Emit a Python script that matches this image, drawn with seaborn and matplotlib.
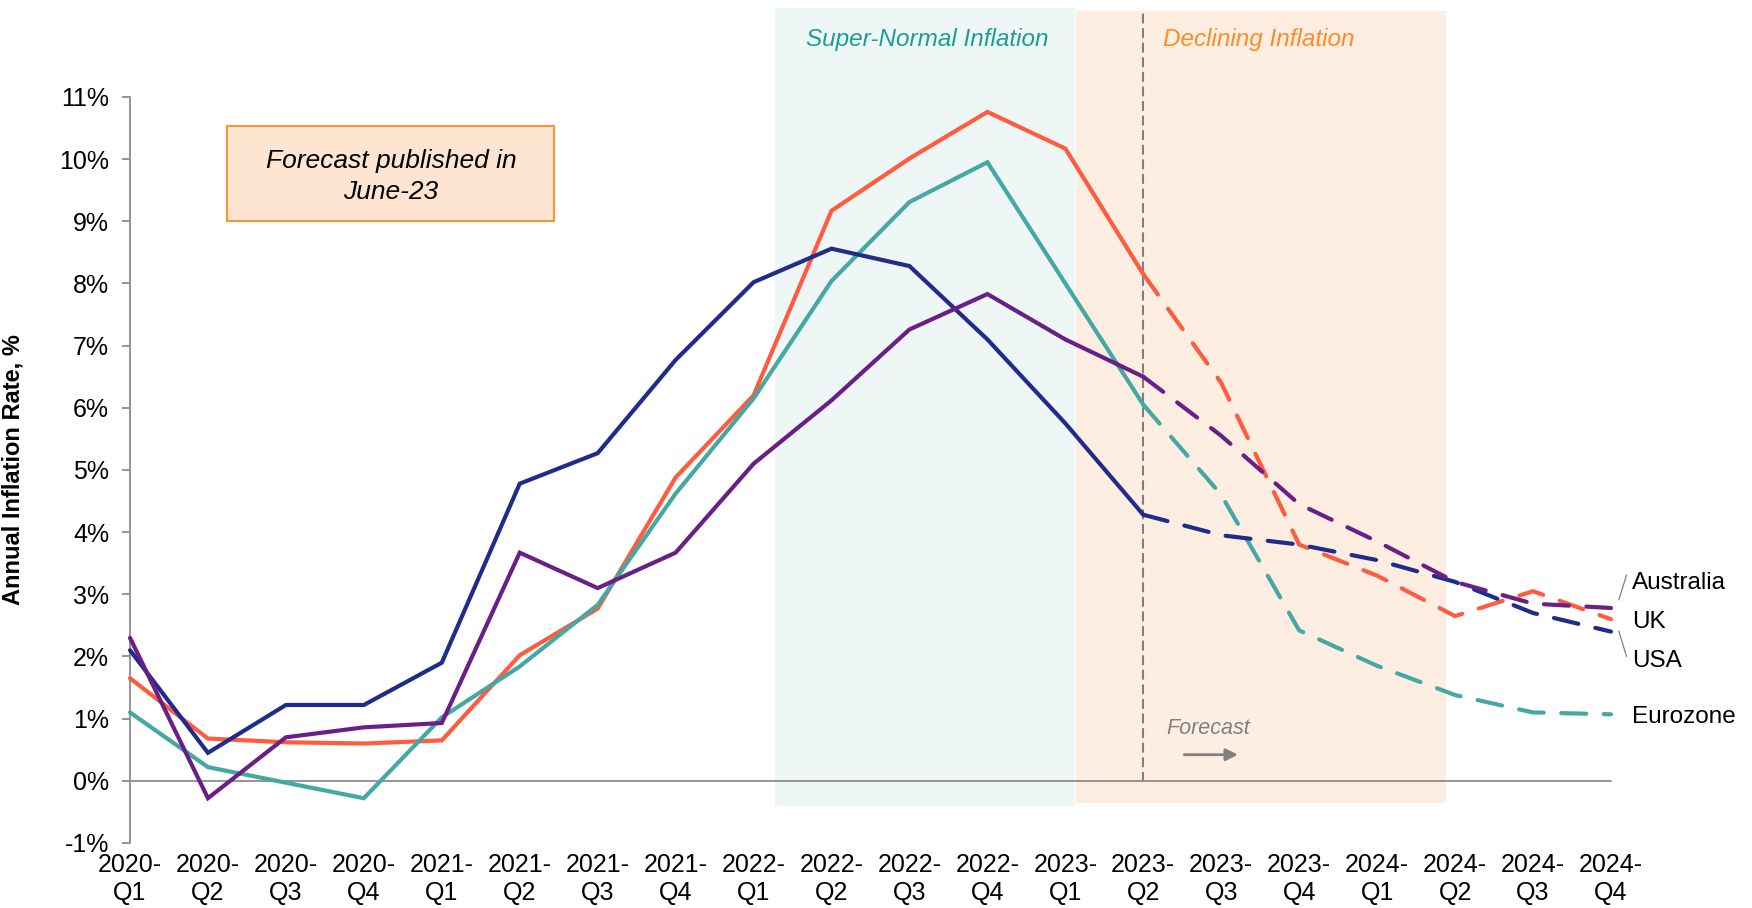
import numpy as np
import pandas as pd
import matplotlib.pyplot as plt
import seaborn as sns
from matplotlib.patches import Rectangle

# ----------------------------
# Data
# ----------------------------

quarters = [
    "2020-\nQ1", "2020-\nQ2", "2020-\nQ3", "2020-\nQ4",
    "2021-\nQ1", "2021-\nQ2", "2021-\nQ3", "2021-\nQ4",
    "2022-\nQ1", "2022-\nQ2", "2022-\nQ3", "2022-\nQ4",
    "2023-\nQ1", "2023-\nQ2", "2023-\nQ3", "2023-\nQ4",
    "2024-\nQ1", "2024-\nQ2", "2024-\nQ3", "2024-\nQ4",
]

uk = [1.65, 0.68, 0.62, 0.60, 0.65, 2.02, 2.77, 4.88, 6.20, 9.17,
      10.01, 10.76, 10.17, 8.15, 6.40, 3.80, 3.30, 2.65, 3.05, 2.60]
eurozone = [1.10, 0.22, -0.03, -0.28, 1.02, 1.84, 2.83, 4.62, 6.15, 8.04,
            9.31, 9.95, 8.00, 6.05, 4.60, 2.42, 1.85, 1.38, 1.10, 1.07]
usa = [2.10, 0.45, 1.22, 1.22, 1.90, 4.78, 5.27, 6.77, 8.02, 8.56,
       8.28, 7.10, 5.75, 4.28, 3.95, 3.80, 3.55, 3.20, 2.70, 2.40]
australia = [2.30, -0.28, 0.70, 0.86, 0.93, 3.67, 3.10, 3.67, 5.10, 6.12,
             7.26, 7.83, 7.10, 6.50, 5.55, 4.45, 3.85, 3.20, 2.85, 2.78]

countries = ["UK", "Eurozone", "USA", "Australia"]
series = {"UK": uk, "Eurozone": eurozone, "USA": usa, "Australia": australia}
forecast_start = 13  # 2023-Q2

colors = {
    "UK": "#FF5B3E",
    "Eurozone": "#45A8A4",
    "USA": "#1F2C8A",
    "Australia": "#6A1F86",
}

# long table: actual part up to forecast_start, forecast part from it
rows = []
for name in countries:
    for i, v in enumerate(series[name]):
        if i <= forecast_start:
            rows.append({"x": i, "value": v, "country": name, "part": "Actual"})
        if i >= forecast_start:
            rows.append({"x": i, "value": v, "country": name, "part": "Forecast"})
df = pd.DataFrame(rows)

# ----------------------------
# Plot
# ----------------------------

sns.set_style("white")
plt.rcParams["font.family"] = ["Liberation Sans", "DejaVu Sans"]
plt.rcParams["text.color"] = "black"
plt.rcParams["xtick.color"] = "black"
plt.rcParams["ytick.color"] = "black"
plt.rcParams["axes.labelcolor"] = "black"

fig = plt.figure(figsize=(17.52, 9.08), dpi=100)
ax = fig.add_axes([0.0742, 0.0716, 0.8453, 0.8216])

# phase shading
ax.add_patch(Rectangle((8.28, -0.40), 12.13 - 8.28, 12.83, facecolor="#EEF7F6",
                       edgecolor="none", clip_on=False, zorder=0))
ax.add_patch(Rectangle((12.14, -0.36), 16.88 - 12.14, 12.75, facecolor="#FEEEE2",
                       edgecolor="none", clip_on=False, zorder=0))

ax.text(10.23, 11.92, "Super-Normal Inflation", color="#1A9E96", fontsize=17.5,
        style="italic", ha="center", va="center")
ax.text(14.48, 11.92, "Declining Inflation", color="#FF8A2A", fontsize=17.5,
        style="italic", ha="center", va="center")

# forecast divider
ax.plot([forecast_start, forecast_start], [0, 12.38], color="#7F7F7F", lw=1.5,
        ls=(0, (4, 3)), clip_on=False, zorder=1)
ax.axhline(0, color="#8C8C8C", lw=1.3, zorder=1)

sns.lineplot(
    data=df, x="x", y="value", hue="country", style="part",
    palette=colors, dashes={"Actual": "", "Forecast": (6, 4.2)},
    estimator=None, sort=True, linewidth=3, legend=False, ax=ax, zorder=3
)
for line in ax.lines:
    line.set_clip_on(False)
    line.set_dash_capstyle("round")
    line.set_solid_joinstyle("miter")

ax.text(13.83, 0.84, "Forecast", color="#808080", fontsize=15.5, style="italic",
        ha="center", va="center")
ax.annotate("", xy=(14.25, 0.42), xytext=(13.49, 0.42),
            arrowprops=dict(arrowstyle="-|>", color="#808080", lw=2,
                            mutation_scale=18))

# box
ax.add_patch(Rectangle((1.25, 9.01), 5.44 - 1.25, 10.54 - 9.01, facecolor="#FDE5D2",
                       edgecolor="#F7963A", lw=1.5, zorder=3))
ax.text(3.35, 9.72, "Forecast published in\nJune-23", fontsize=19, style="italic",
        ha="center", va="center", linespacing=1.35, zorder=4)

# right-hand labels
ax.text(19.27, 3.18, "Australia", fontsize=17.5, va="center")
ax.text(19.27, 2.55, "UK", fontsize=17.5, va="center")
ax.text(19.27, 1.92, "USA", fontsize=17.5, va="center")
ax.text(19.27, 1.03, "Eurozone", fontsize=17.5, va="center")
ax.plot([19.1, 19.2], [2.91, 3.31], color="#7F7F7F", lw=0.9, clip_on=False)
ax.plot([19.1, 19.2], [2.41, 2.0], color="#7F7F7F", lw=0.9, clip_on=False)

# axes
ax.set_xlim(0, 19)
ax.set_ylim(-1, 11)
ax.set_xticks(range(len(quarters)))
ax.set_xticklabels(quarters, fontsize=18, linespacing=1.25)
ax.set_yticks(range(-1, 12))
ax.set_yticklabels([f"{v}%" for v in range(-1, 12)], fontsize=18)
ax.tick_params(axis="x", length=0, pad=7)
ax.tick_params(axis="y", length=6, width=1.3, color="#8C8C8C", labelcolor="black",
               direction="out", pad=9, left=True)
ax.set_xlabel("")
ax.set_ylabel("Annual Inflation Rate, %", fontsize=17, fontweight="bold")
ax.yaxis.set_label_coords(-0.0712, 0.5)

for side in ["top", "right", "bottom"]:
    ax.spines[side].set_visible(False)
ax.spines["left"].set_color("#8C8C8C")
ax.spines["left"].set_linewidth(1.3)
ax.patch.set_alpha(0)

fig.savefig("out.png", dpi=100)
